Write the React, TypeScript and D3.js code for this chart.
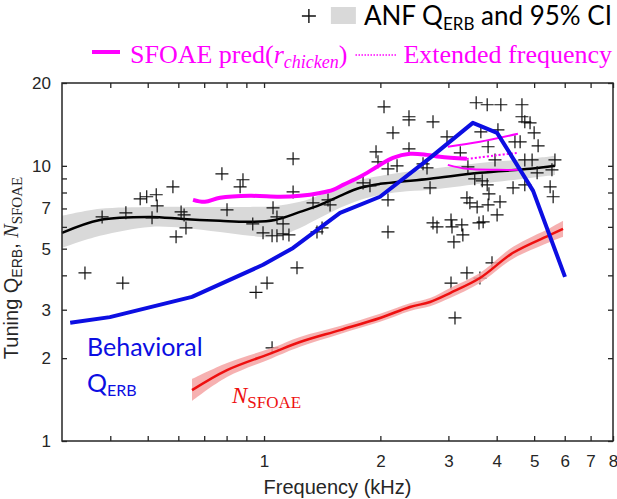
import React, { useEffect, useRef } from "react";
import * as d3 from "d3";

// ANF single-fibre Q_ERB estimates [kHz, Q]
const anfPoints: [number, number][] = [
  [0.344, 4.08], [0.431, 3.75], [0.381, 6.52], [0.439, 6.75], [0.478, 7.59],
  [0.497, 7.72], [0.526, 7.85], [0.529, 7.15], [0.513, 6.47], [0.581, 8.39],
  [0.592, 5.52], [0.61, 6.8], [0.621, 6.63], [0.628, 5.95], [0.778, 9.35],
  [0.867, 8.39], [0.882, 8.9], [0.802, 6.92], [0.935, 6.15], [0.994, 5.71],
  [1.055, 7.04], [1.08, 6.52], [1.049, 5.57], [1.08, 5.57], [1.12, 5.66],
  [1.16, 5.61], [1.12, 6.15], [1.189, 10.6], [1.189, 8.04], [1.217, 4.26],
  [0.953, 3.47], [1.018, 3.75], [1.049, 2.18], [1.339, 7.34], [1.371, 5.75],
  [1.413, 5.95], [1.464, 7.52], [1.482, 7.21], [1.804, 8.67], [1.88, 8.46],
  [1.949, 11.24], [1.972, 10.34], [2.044, 16.39], [2.093, 9.75], [2.209, 10.0],
  [2.093, 7.52], [2.093, 5.75], [2.156, 13.18], [2.372, 15.08], [2.372, 14.7],
  [2.372, 11.53], [2.579, 10.17], [2.641, 9.83], [2.689, 8.32], [2.737, 14.45],
  [2.737, 6.2], [2.803, 6.0], [2.975, 12.75], [3.22, 11.15], [3.54, 16.95],
  [3.78, 16.67], [4.1, 16.67], [4.65, 16.67], [4.65, 15.08], [4.73, 14.45],
  [4.88, 14.33], [3.64, 13.29], [4.03, 13.52], [5.0, 13.18], [4.6, 12.23],
  [4.46, 12.23], [5.12, 11.82], [3.8, 11.73], [3.96, 10.51], [4.73, 10.51],
  [4.94, 10.51], [5.66, 10.51], [5.56, 9.67], [5.09, 9.43], [3.37, 9.92],
  [3.51, 8.97], [3.67, 8.82], [4.41, 8.32], [3.78, 8.53], [4.73, 8.53],
  [3.82, 7.91], [3.35, 7.65], [3.41, 7.34], [3.56, 7.09], [3.8, 7.21],
  [4.08, 7.4], [4.01, 6.63], [3.69, 6.26], [3.6, 6.2], [5.5, 8.39],
  [5.6, 7.72], [3.047, 6.36], [3.065, 6.0], [3.25, 6.1], [3.27, 5.61],
  [3.1, 5.29], [3.89, 4.44], [3.35, 4.08], [3.047, 3.75], [3.62, 3.91],
  [3.12, 2.8],
];

// ANF Q_ERB fit and 95% CI
const anfFitFreq = [0.3, 0.376, 0.507, 0.617, 0.769, 0.92, 1.067, 1.239, 1.396, 1.573, 1.772, 1.996, 2.248, 2.689, 3.62, 4.88, 5.66];
const anfFitQ = [5.71, 6.36, 6.52, 6.41, 6.31, 6.26, 6.36, 6.8, 7.21, 7.78, 8.32, 8.6, 8.75, 8.97, 9.43, 9.75, 10.0];
const anfCiHigh = [6.58, 6.98, 7.09, 7.09, 7.09, 7.09, 7.15, 7.4, 7.84, 8.39, 8.89, 9.19, 9.43, 9.75, 10.25, 10.6, 10.87];
const anfCiLow = [5.03, 5.57, 6.0, 5.95, 5.75, 5.57, 5.52, 5.95, 6.47, 7.04, 7.52, 7.84, 8.04, 8.18, 8.6, 9.04, 9.27];

// SFOAE prediction (r_chicken)
const sfoaeFreq = [0.655, 0.703, 0.769, 0.92, 1.1, 1.239, 1.396, 1.508, 1.601, 1.772, 1.96, 2.156, 2.386, 2.641, 2.854, 3.35];
const sfoaeQ = [7.52, 7.4, 7.65, 7.78, 7.72, 7.78, 7.97, 8.18, 8.53, 9.12, 9.92, 10.69, 11.06, 10.96, 10.78, 10.6];
const extFreq = [3.35, 3.95, 4.54];
const extQ = [10.6, 10.9, 11.15];
const extHighFreq = [2.99, 3.62, 4.54];
const extHigh = [11.73, 12.23, 13.07];
const extLowFreq = [2.99, 3.35, 4.01, 4.6];
const extLow = [10.08, 9.75, 9.67, 9.67];

// Behavioral Q_ERB
const behavFreq = [0.315, 0.399, 0.651, 0.994, 1.189, 1.573, 1.996, 2.689, 3.47, 4.01, 4.6, 4.97, 6.01];
const behavQ = [2.69, 2.82, 3.34, 4.37, 5.03, 6.75, 7.72, 10.69, 14.33, 13.18, 9.67, 8.11, 3.95];

// N_SFOAE and CI
const nFreq = [0.651, 0.802, 1.049, 1.239, 1.573, 1.996, 2.386, 2.689, 3.03, 3.62, 4.41, 5.5, 5.94];
const nVal = [1.53, 1.81, 2.09, 2.29, 2.53, 2.8, 3.07, 3.2, 3.45, 3.91, 4.83, 5.61, 5.9];
const nHigh = [1.68, 1.92, 2.18, 2.39, 2.62, 2.9, 3.17, 3.31, 3.6, 4.08, 5.08, 5.95, 6.31];
const nLow = [1.4, 1.71, 2.0, 2.2, 2.45, 2.71, 2.97, 3.09, 3.31, 3.75, 4.6, 5.29, 5.52];

const xTicks = [0.4, 0.5, 0.6, 0.7, 0.8, 0.9, 1, 2, 3, 4, 5, 6, 7, 8];
const xLabels = [1, 2, 3, 4, 5, 6, 7, 8];
const yTicks = [1, 2, 3, 4, 5, 6, 7, 8, 9, 10, 20];
const yLabels = [1, 2, 3, 5, 7, 10, 20];

const MAGENTA = "#f0f";
const BLUE = "#0c0ee2";
const RED = "#ee1010";

export default function App() {
  const ref = useRef<SVGSVGElement>(null);

  useEffect(() => {
    const svg = d3.select(ref.current);
    svg.selectAll("*").remove();

    const width = 617;
    const height = 499;
    const m = { left: 62, right: 613, top: 83, bottom: 441 };

    const x = d3.scaleLog().domain([0.3, 8]).range([m.left, m.right]);
    const y = d3.scaleLog().domain([1, 20]).range([m.bottom, m.top]);

    svg.attr("width", width).attr("height", height);

    const plot = svg.append("g");

    const zip = (fs: number[], vs: number[]) => fs.map((f, i) => [f, vs[i]] as [number, number]);
    const line = (curve: d3.CurveFactory) =>
      d3.line<[number, number]>().x((d) => x(d[0])).y((d) => y(d[1])).curve(curve);
    const band = (fs: number[], lo: number[], hi: number[]) =>
      d3
        .area<number>()
        .x((d) => x(fs[d]))
        .y0((d) => y(lo[d]))
        .y1((d) => y(hi[d]))
        .curve(d3.curveCatmullRom)(d3.range(fs.length));

    // gray CI band + fit
    plot.append("path").attr("d", band(anfFitFreq, anfCiLow, anfCiHigh)!).attr("fill", "#d9d9d9");
    plot
      .append("path")
      .attr("d", line(d3.curveCatmullRom)(zip(anfFitFreq, anfFitQ))!)
      .attr("fill", "none")
      .attr("stroke", "#000")
      .attr("stroke-width", 2.5);

    // crosses
    const cross = (cx: number, cy: number, s: number) =>
      `M${cx - s},${cy}H${cx + s}M${cx},${cy - s}V${cy + s}`;
    plot
      .append("path")
      .attr("d", anfPoints.map((d) => cross(x(d[0]), y(d[1]), 6.5)).join(""))
      .attr("stroke", "#111")
      .attr("stroke-width", 1.2)
      .attr("fill", "none");

    // N_SFOAE
    plot.append("path").attr("d", band(nFreq, nLow, nHigh)!).attr("fill", "#f4a3a3").attr("opacity", 0.85);
    plot
      .append("path")
      .attr("d", line(d3.curveCatmullRom)(zip(nFreq, nVal))!)
      .attr("fill", "none")
      .attr("stroke", RED)
      .attr("stroke-width", 2.5);

    // SFOAE prediction
    plot
      .append("path")
      .attr("d", line(d3.curveCatmullRom)(zip(sfoaeFreq, sfoaeQ))!)
      .attr("fill", "none")
      .attr("stroke", MAGENTA)
      .attr("stroke-width", 4);
    [zip(extHighFreq, extHigh), zip(extLowFreq, extLow)].forEach((pts) =>
      plot
        .append("path")
        .attr("d", line(d3.curveCatmullRom)(pts)!)
        .attr("fill", "none")
        .attr("stroke", MAGENTA)
        .attr("stroke-width", 2)
    );
    plot
      .append("path")
      .attr("d", line(d3.curveCatmullRom)(zip(extFreq, extQ))!)
      .attr("fill", "none")
      .attr("stroke", MAGENTA)
      .attr("stroke-width", 2)
      .attr("stroke-dasharray", "2,2");

    // behavioral
    plot
      .append("path")
      .attr("d", line(d3.curveLinear)(zip(behavFreq, behavQ))!)
      .attr("fill", "none")
      .attr("stroke", BLUE)
      .attr("stroke-width", 4)
      .attr("stroke-linejoin", "round");

    // axes (ticks inside, box)
    const axisFont = "'Liberation Sans', Arial, sans-serif";
    const fmtX = (d: any) => (xLabels.includes(+d) ? String(d) : "");
    const fmtY = (d: any) => (yLabels.includes(+d) ? String(d) : "");
    const styleAxis = (g: any) => {
      g.select(".domain").remove();
      g.selectAll("line").attr("stroke", "#262626").attr("stroke-width", 1.3);
      g.selectAll("text").attr("fill", "#262626").style("font-family", axisFont).style("font-size", "17px");
    };
    svg
      .append("g")
      .attr("transform", `translate(0,${m.bottom})`)
      .call(d3.axisBottom(x).tickValues(xTicks).tickSize(-5).tickPadding(14).tickFormat(fmtX))
      .call(styleAxis);
    svg
      .append("g")
      .attr("transform", `translate(0,${m.top})`)
      .call(d3.axisTop(x).tickValues(xTicks).tickSize(-5).tickFormat(() => ""))
      .call(styleAxis);
    svg
      .append("g")
      .attr("transform", `translate(${m.left},0)`)
      .call(d3.axisLeft(y).tickValues(yTicks).tickSize(-5).tickPadding(11).tickFormat(fmtY))
      .call(styleAxis);
    svg
      .append("g")
      .attr("transform", `translate(${m.right},0)`)
      .call(d3.axisRight(y).tickValues(yTicks).tickSize(-5).tickFormat(() => ""))
      .call(styleAxis);
    svg
      .append("rect")
      .attr("x", m.left)
      .attr("y", m.top)
      .attr("width", m.right - m.left)
      .attr("height", m.bottom - m.top)
      .attr("fill", "none")
      .attr("stroke", "#262626")
      .attr("stroke-width", 1.5);

    // axis labels
    svg
      .append("text")
      .attr("x", (m.left + m.right) / 2)
      .attr("y", 494)
      .attr("text-anchor", "middle")
      .style("font-family", axisFont)
      .style("font-size", "20px")
      .attr("fill", "#262626")
      .text("Frequency (kHz)");

    const yl = svg
      .append("text")
      .attr("transform", "translate(18,268) rotate(-90)")
      .attr("text-anchor", "middle")
      .style("font-family", axisFont)
      .style("font-size", "20px")
      .attr("fill", "#262626");
    yl.append("tspan").text("Tuning Q");
    yl.append("tspan").attr("dy", 4).style("font-size", "14px").text("ERB");
    yl.append("tspan").attr("dy", -4).text(", ");
    yl.append("tspan").style("font-family", "'Liberation Serif', serif").style("font-style", "italic").text("N");
    yl.append("tspan").attr("dy", 4).style("font-family", "'Liberation Serif', serif").style("font-size", "15px").text("SFOAE");

    // in-plot annotations
    const calibri = "Lato, 'Open Sans', sans-serif";
    svg
      .append("text")
      .attr("x", 87)
      .attr("y", 356)
      .attr("fill", BLUE)
      .style("font-family", calibri)
      .style("font-size", "25px")
      .text("Behavioral");
    const qb = svg
      .append("text")
      .attr("x", 87)
      .attr("y", 392)
      .attr("fill", BLUE)
      .style("font-family", calibri)
      .style("font-size", "25px");
    qb.append("tspan").text("Q");
    qb.append("tspan").attr("dy", 4).style("font-size", "16px").text("ERB");

    const ns = svg
      .append("text")
      .attr("x", 232)
      .attr("y", 403)
      .attr("fill", RED)
      .style("font-family", "'Liberation Serif', serif")
      .style("font-size", "23px");
    ns.append("tspan").style("font-style", "italic").text("N");
    ns.append("tspan").attr("dy", 5).style("font-size", "17px").text("SFOAE");

    // legend line 1
    const l1 = svg
      .append("text")
      .attr("x", 612)
      .attr("y", 25)
      .attr("text-anchor", "end")
      .attr("fill", "#000")
      .style("font-family", calibri)
      .style("font-size", "26px");
    l1.append("tspan").text("ANF Q");
    l1.append("tspan").attr("dy", 5).style("font-size", "17px").text("ERB");
    l1.append("tspan").attr("dy", -5).text(" and 95% CI");
    const l1x = (l1.node() as SVGTextElement).getBBox().x;
    svg
      .append("rect")
      .attr("x", l1x - 33)
      .attr("y", 7)
      .attr("width", 25)
      .attr("height", 17)
      .attr("fill", "#d9d9d9");
    svg
      .append("path")
      .attr("d", cross(l1x - 55, 16, 7))
      .attr("stroke", "#111")
      .attr("stroke-width", 1.4);

    // legend line 2
    svg.append("line").attr("x1", 92).attr("x2", 120).attr("y1", 52).attr("y2", 52).attr("stroke", MAGENTA).attr("stroke-width", 4);
    const l2 = svg
      .append("text")
      .attr("x", 130)
      .attr("y", 63)
      .attr("fill", MAGENTA)
      .style("font-family", "'Liberation Serif', serif")
      .style("font-size", "26px");
    l2.append("tspan").text("SFOAE pred(");
    l2.append("tspan").style("font-style", "italic").text("r");
    l2.append("tspan").attr("dy", 5).style("font-style", "italic").style("font-size", "18px").text("chicken");
    l2.append("tspan").attr("dy", -5).text(")");
    const l2b = (l2.node() as SVGTextElement).getBBox();
    const ext = svg
      .append("text")
      .attr("x", 612)
      .attr("y", 63)
      .attr("text-anchor", "end")
      .attr("fill", MAGENTA)
      .style("font-family", "'Liberation Serif', serif")
      .style("font-size", "26px")
      .text("Extended frequency");
    const extX = (ext.node() as SVGTextElement).getBBox().x;
    svg
      .append("line")
      .attr("x1", l2b.x + l2b.width + 8)
      .attr("x2", extX - 6)
      .attr("y1", 55)
      .attr("y2", 55)
      .attr("stroke", MAGENTA)
      .attr("stroke-width", 1.5)
      .attr("stroke-dasharray", "1.5,1.5");
  }, []);

  return (
    <svg
      ref={ref}
      style={{ position: "absolute", left: 0, top: 0, background: "#fff" }}
    ></svg>
  );
}
